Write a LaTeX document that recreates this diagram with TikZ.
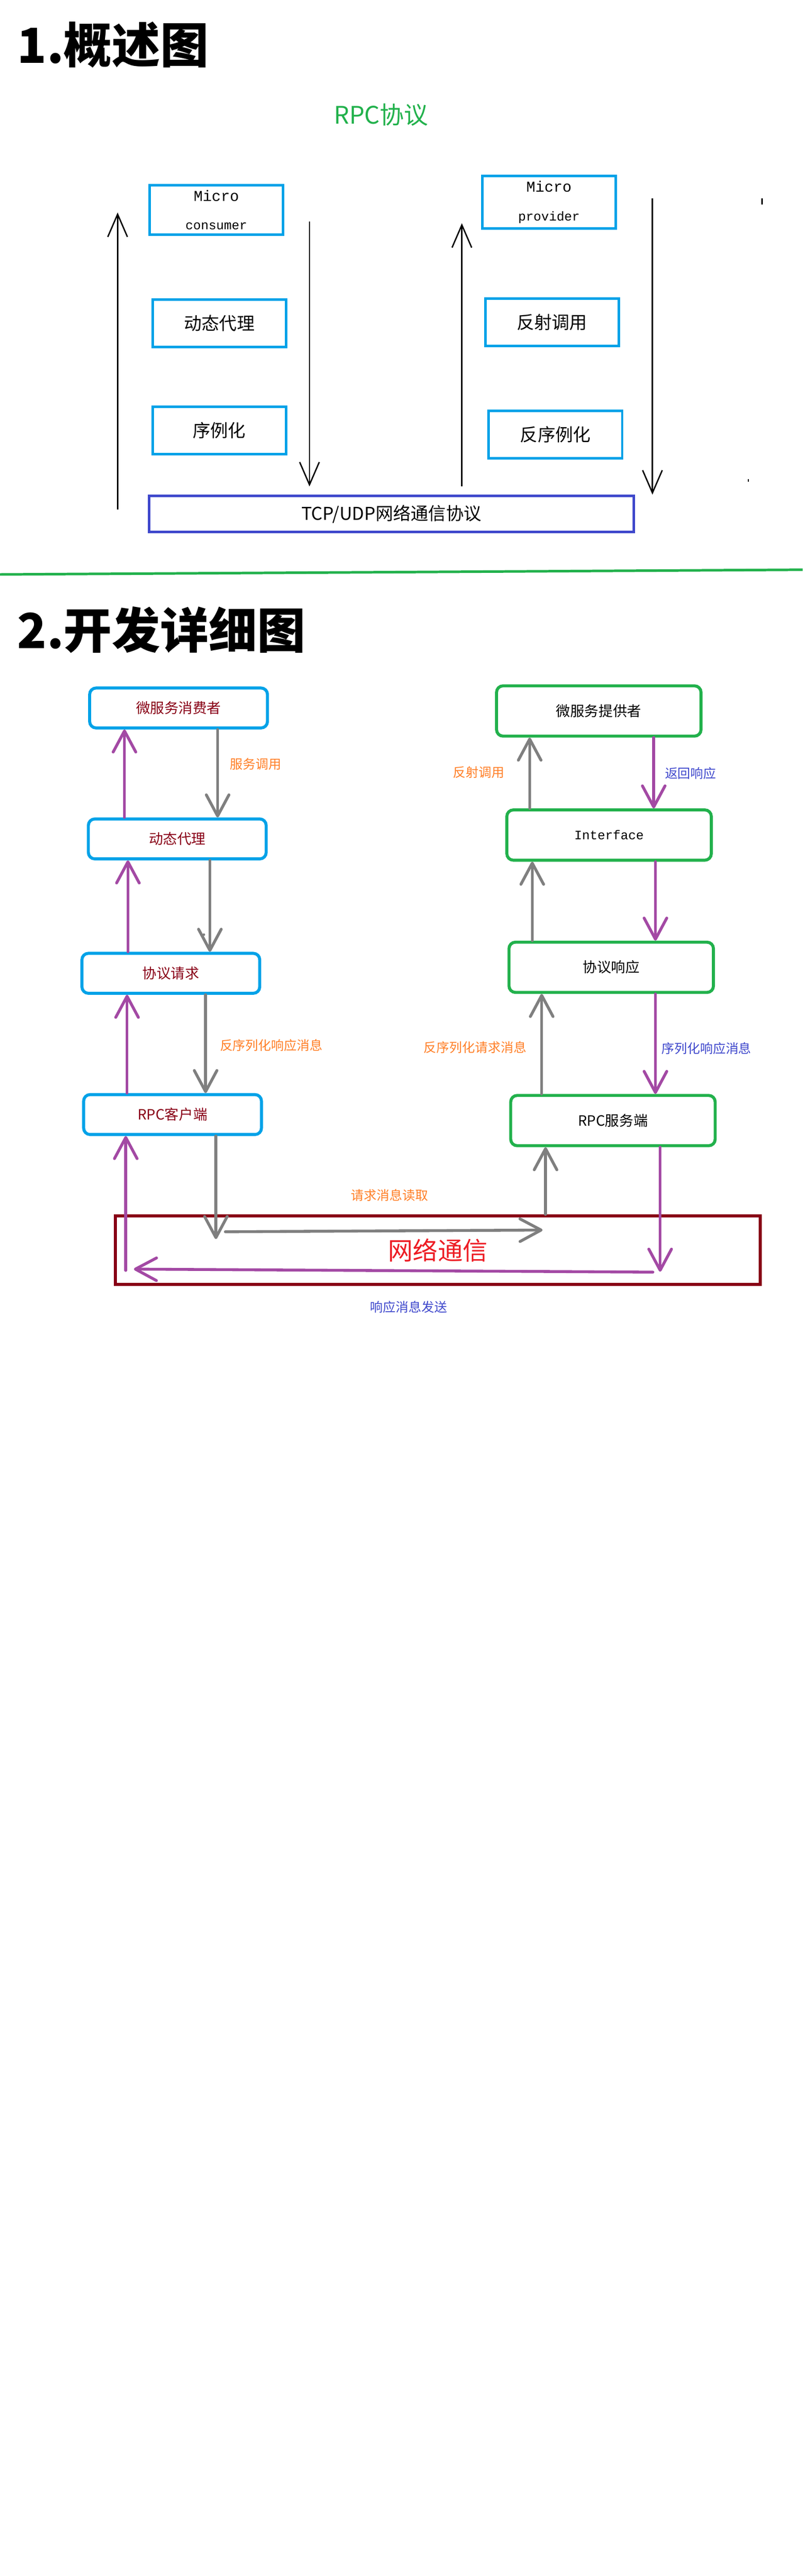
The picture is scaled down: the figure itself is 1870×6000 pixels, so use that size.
\documentclass[tikz,border=0pt]{standalone}
\usepackage{fontspec}
\setmainfont{Noto Sans CJK SC}
\newfontfamily\latinmono{Liberation Mono}
\usetikzlibrary{arrows.meta}

\definecolor{pblue}{HTML}{00A2E8}
\definecolor{pgreen}{HTML}{22B14C}
\definecolor{ppurple}{HTML}{A349A4}
\definecolor{pgray}{HTML}{7F7F7F}
\definecolor{porange}{HTML}{FF7F27}
\definecolor{pdarkred}{HTML}{880015}
\definecolor{pred}{HTML}{ED1C24}
\definecolor{pindigo}{HTML}{3F48CC}

\begin{document}
\begin{tikzpicture}[x=0.01cm,y=-0.01cm,
        headline/.style={anchor=west,inner sep=0pt,font=\fontsize{32}{36}\selectfont\bfseries},
        sqbox/.style={draw=pblue,line width=1.7pt,minimum width=3.11cm,minimum height=1.1cm,align=center,font=\fontsize{11.7}{14}\selectfont},
        lbox/.style={draw=pblue,line width=2pt,rounded corners=0.15cm,minimum width=4.14cm,minimum height=0.93cm,text=pdarkred,font=\fontsize{9.4}{11}\selectfont},
        rbox/.style={draw=pgreen,line width=2pt,rounded corners=0.15cm,minimum width=4.76cm,minimum height=1.17cm,font=\fontsize{9.4}{11}\selectfont},
        bline/.style={line width=0.9pt,-{Straight Barb[length=15pt,width=13pt]}},
        garrow/.style={draw=pgray,line width=1.9pt,line cap=round,-{Straight Barb[length=14pt,width=15pt,round]}},
        parrow/.style={draw=ppurple,line width=1.9pt,line cap=round,-{Straight Barb[length=14pt,width=15pt,round]}},
        lab/.style={inner sep=0pt,font=\fontsize{8.5}{10}\selectfont}]

            \useasboundingbox (0,0) rectangle (1870,6000);

            % 1. overview
            \node[headline] (title1) at (40,105) {1.概述图};
            \node[text=pgreen,font=\fontsize{16}{18}\selectfont] (rpc) at (888,268) {RPC协议};

            \node[sqbox,font=\latinmono] (mc) at (504,489) {{\fontsize{10}{12}\selectfont Micro}\\[7pt]{\fontsize{8.5}{10}\selectfont consumer}};
            \node[sqbox,font=\latinmono] (mp) at (1279,471) {{\fontsize{10}{12}\selectfont Micro}\\[7pt]{\fontsize{8.5}{10}\selectfont provider}};
            \foreach \name/\x/\y/\txt in {dtdl1/511/753/动态代理, xlh1/511/1003/序例化, fsdy1/1286/751/反射调用, fxlh1/1294/1012/反序例化} {
                \node[sqbox] (\name) at (\x,\y) {\txt};
            }
            \node[draw=pindigo,line width=1.7pt,minimum width=11.28cm,minimum height=0.83cm,font=\fontsize{11.7}{14}\selectfont] (tcp) at (912,1197) {TCP/UDP网络通信协议};

            % long arrows beside the boxes
            \foreach \i/\x/\ya/\yb in {1/274/1187/495, 2/721/516/1133, 3/1076/1133/520, 4/1520/462/1152} {
                \coordinate (s\i) at (\x,\ya);
                \coordinate (e\i) at (\x,\yb);
                \draw[bline] (s\i) -- (e\i);
            }
            \draw[line width=0.9pt] (1775,462) -- (1775,476);
            \draw[line width=0.6pt] (1744,1116) -- (1744,1122);

            % separator
            \draw[pgreen,line width=1.7pt] (0,1338) -- (1870,1327);

            % 2. detail
            \node[headline] (title2) at (40,1467) {2.开发详细图};

            \foreach \name/\x/\y/\txt in {msc/416/1649/微服务消费者, dtdl/413/1954/动态代理, xyqq/398/2267/协议请求, rpckh/402/2596/RPC客户端} {
                \node[lbox] (\name) at (\x,\y) {\txt};
            }
            \foreach \name/\x/\y/\txt in {msp/1395/1656/微服务提供者, xyxy/1424/2253/协议响应, rpcfw/1428/2610/RPC服务端} {
                \node[rbox] (\name) at (\x,\y) {\txt};
            }
            \node[rbox,font=\latinmono\fontsize{8.5}{10}\selectfont] (intf) at (1419,1945) {Interface};

            \node[draw=pdarkred,line width=2pt,minimum width=15.02cm,minimum height=1.6cm,text=pred,font=\fontsize{16.5}{18}\selectfont] (net) at (1020,2912) {网络通信};

            % columns of the arrows
            \foreach \n/\x in {g1/507, g2/489, g3/479, g4/503, p1/290, p2/298, p3/296, p4/293, g5/1234, g6/1240, g7/1262, g8/1271, p5/1523, p6/1527, p7/1527, p8/1538} {
                \coordinate (\n) at (\x,0);
            }

            % consumer side
            \draw[garrow] (msc.south -| g1) -- (dtdl.north -| g1);
            \draw[parrow] (dtdl.north -| p1) -- (msc.south -| p1);
            \draw[garrow] (dtdl.south -| g2) -- (xyqq.north -| g2);
            \draw[parrow] (xyqq.north -| p2) -- (dtdl.south -| p2);
            \draw[garrow] (xyqq.south -| g3) -- (rpckh.north -| g3);
            \draw[parrow] (rpckh.north -| p3) -- (xyqq.south -| p3);
            \fill[pgray] (475,2177) circle (3);

            % provider side
            \draw[garrow] (intf.north -| g5) -- (msp.south -| g5);
            \draw[parrow] (msp.south -| p5) -- (intf.north -| p5);
            \draw[garrow] (xyxy.north -| g6) -- (intf.south -| g6);
            \draw[parrow] (intf.south -| p6) -- (xyxy.north -| p6);
            \draw[garrow] (rpcfw.north -| g7) -- (xyxy.south -| g7);
            \draw[parrow] (xyxy.south -| p7) -- (rpcfw.north -| p7);

            % through the network
            \coordinate (gdown) at (503,2886);
            \coordinate (gfrom) at (525,2869);
            \coordinate (gto) at (1264,2865);
            \draw[garrow] (rpckh.south -| g4) -- (gdown);
            \draw[garrow] (gfrom) -- (gto);
            \draw[garrow] (net.north -| g8) -- (rpcfw.south -| g8);
            \coordinate (pdown) at (1538,2962);
            \coordinate (pfrom) at (1521,2963);
            \coordinate (pto) at (312,2956);
            \coordinate (pup) at (293,2959);
            \draw[parrow] (rpcfw.south -| p8) -- (pdown);
            \draw[parrow] (pfrom) -- (pto);
            \draw[parrow] (pup) -- (rpckh.south -| p4);

            % labels
            \foreach \name/\x/\y/\c/\txt in {l1/596/1780/porange/服务调用, l2/632/2435/porange/反序列化响应消息, l3/1115/1799/porange/反射调用, l4/1609/1801/pindigo/返回响应, l5/1107/2440/porange/反序列化请求消息, l6/1646/2442/pindigo/序列化响应消息, l7/908/2784/porange/请求消息读取, l8/952/3044/pindigo/响应消息发送} {
                \node[lab,text=\c] (\name) at (\x,\y) {\txt};
            }

\end{tikzpicture}
\end{document}
